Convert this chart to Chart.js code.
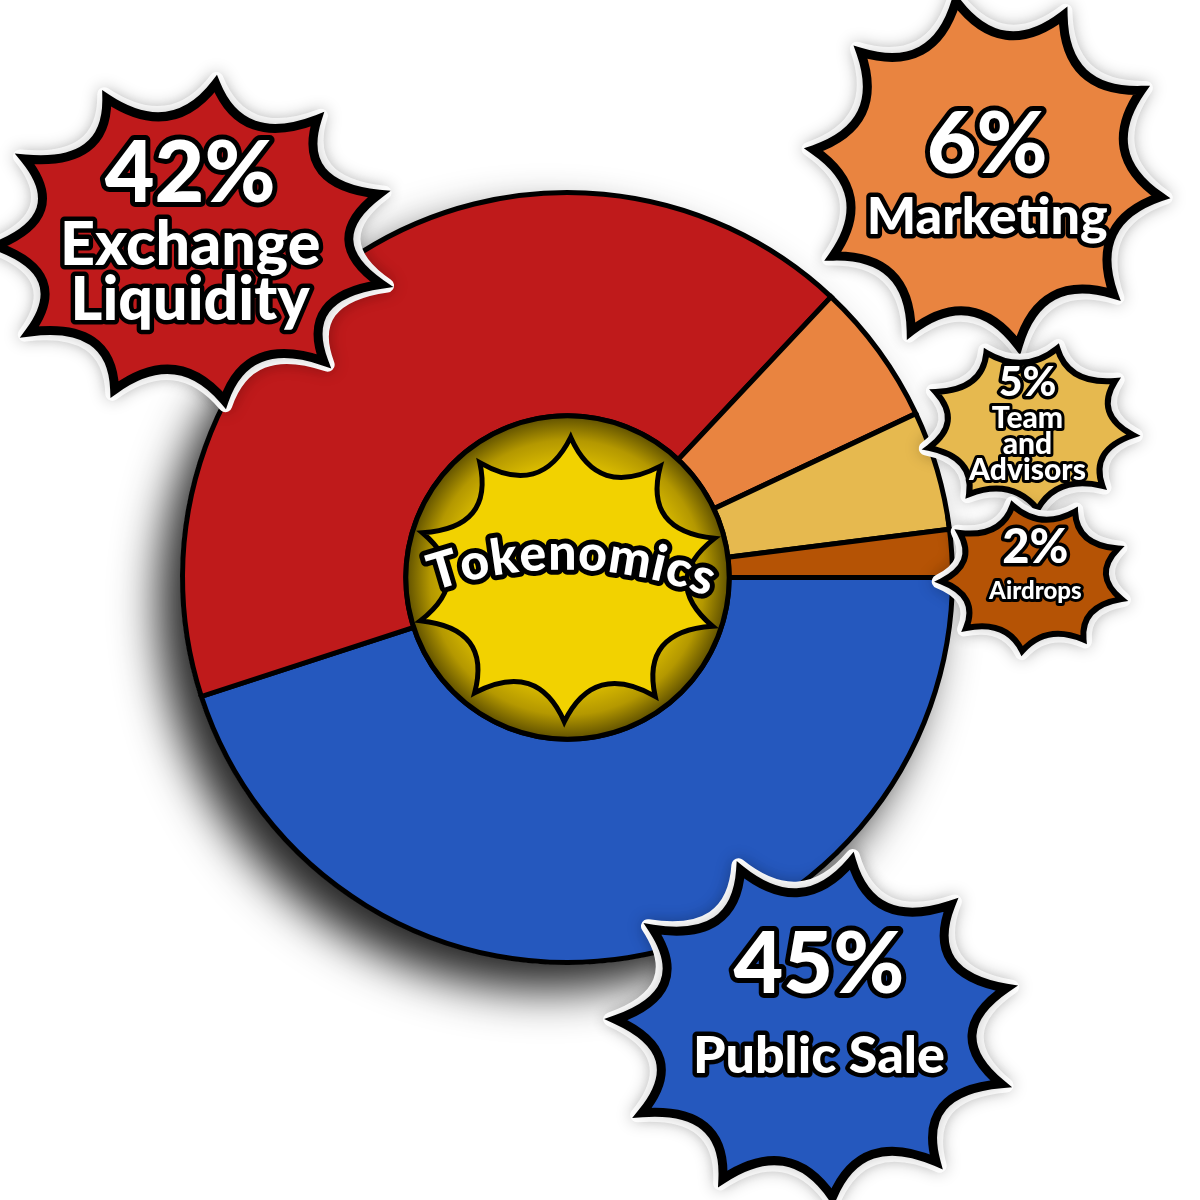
<!DOCTYPE html>
<html>
<head>
<meta charset="utf-8">
<script src="https://cdn.jsdelivr.net/npm/chart.js@4.4.1/dist/chart.umd.min.js"></script>
<style>
  html, body { margin: 0; padding: 0; background: #ffffff; }
  #wrap { width: 1200px; height: 1200px; }
</style>
</head>
<body>
<div id="wrap"><canvas id="c" width="1200" height="1200"></canvas></div>
<script>
// ---- data ----
const categories = ['Public Sale', 'Exchange Liquidity', 'Marketing', 'Team and Advisors', 'Airdrops'];
const values = [45, 42, 6, 5, 2];
const labelLines = [['Public Sale'], ['Exchange', 'Liquidity'], ['Marketing'], ['Team', 'and', 'Advisors'], ['Airdrops']];
const colors = ['#2558BE', '#BF1A1B', '#E98440', '#E6B94F', '#B55305'];
const centerTitle = 'Tokenomics';

// ---- badge styling (decoration placement, relative to the doughnut) ----
const FONT = '"Lato", "DejaVu Sans", sans-serif';
const badgeStyle = [
  { idx: 1, dx: -0.975, dy: -0.87, rx: 196, ry: 160, n: 11, rot: -1.45, pctSize: 86, lineSize: 61, pctOff: -68, lineOffs: [3, 58], tx: -2, sw: 9 },
  { idx: 2, dx: 1.09, dy: -1.05, rx: 175, ry: 175, n: 10, rot: -1.75, pctSize: 86, lineSize: 52, pctOff: -28, lineOffs: [44], tx: 0, sw: 9 },
  { idx: 3, dx: 1.20, dy: -0.39, rx: 104, ry: 82, n: 9, rot: -1.30, pctSize: 41, lineSize: 30, pctOff: -45, lineOffs: [-9, 17, 43], tx: -2, sw: 6 },
  { idx: 4, dx: 1.21, dy: 0.0, rx: 92, ry: 74, n: 9, rot: -1.10, pctSize: 47, lineSize: 24, pctOff: -30, lineOffs: [14], tx: 2, sw: 6 },
  { idx: 0, dx: 0.64, dy: 1.17, rx: 198, ry: 170, n: 11, rot: -1.95, pctSize: 86, lineSize: 52, pctOff: -63, lineOffs: [28], tx: 5, sw: 9 }
];
const badgeFirst = [badgeStyle[4], badgeStyle[0], badgeStyle[1], badgeStyle[2], badgeStyle[3]];

function starPath(ctx, cx, cy, rx, ry, n, rot, inner) {
  ctx.beginPath();
  for (let i = 0; i <= n; i++) {
    const a = rot + i * 2 * Math.PI / n;
    const px = cx + rx * Math.cos(a), py = cy + ry * Math.sin(a);
    if (i === 0) { ctx.moveTo(px, py); continue; }
    const am = a - Math.PI / n;
    const qx = cx + rx * inner * Math.cos(am), qy = cy + ry * inner * Math.sin(am);
    ctx.quadraticCurveTo(qx, qy, px, py);
  }
  ctx.closePath();
}

function outlinedText(ctx, txt, x, y, size, sw) {
  ctx.font = '900 ' + size + 'px ' + FONT;
  ctx.textAlign = 'center';
  ctx.textBaseline = 'middle';
  ctx.lineJoin = 'round';
  ctx.lineWidth = sw;
  ctx.strokeStyle = '#000';
  ctx.strokeText(txt, x, y);
  ctx.fillStyle = '#fff';
  ctx.fillText(txt, x, y);
}

const decorPlugin = {
  id: 'decor',
  beforeDatasetsDraw(chart) {
    const arc = chart.getDatasetMeta(0).data[0];
    if (!arc) return;
    const ctx = chart.ctx;
    ctx.save();
    ctx.beginPath();
    ctx.arc(arc.x, arc.y, arc.outerRadius + 2, 0, Math.PI * 2);
    ctx.shadowColor = 'rgba(0,0,0,0.85)';
    ctx.shadowBlur = 45;
    ctx.shadowOffsetX = -22;
    ctx.shadowOffsetY = 26;
    ctx.fillStyle = '#fff';
    ctx.fill();
    ctx.restore();
  },
  afterDatasetsDraw(chart) {
    const arc = chart.getDatasetMeta(0).data[0];
    if (!arc) return;
    const ctx = chart.ctx;
    const cx = arc.x, cy = arc.y, r = arc.innerRadius;
    ctx.save();
    const g = ctx.createRadialGradient(cx, cy, 0, cx, cy, r);
    g.addColorStop(0, '#F2D200');
    g.addColorStop(0.62, '#EBCB00');
    g.addColorStop(0.85, '#B49800');
    g.addColorStop(1, '#5E4F00');
    ctx.beginPath();
    ctx.arc(cx, cy, r, 0, Math.PI * 2);
    ctx.fillStyle = g;
    ctx.fill();
    ctx.lineWidth = 5;
    ctx.strokeStyle = '#000';
    ctx.stroke();
    starPath(ctx, cx, cy + 2, r * 0.95, r * 0.88, 10, -1.55, 0.6);
    ctx.fillStyle = '#F2D200';
    ctx.fill();
    ctx.lineWidth = 5;
    ctx.lineJoin = 'miter';
    ctx.stroke();
    const R = 420;
    const acx = cx - 4, acy = cy - 24 + R;
    ctx.font = '900 50px ' + FONT;
    ctx.textAlign = 'center';
    ctx.textBaseline = 'middle';
    ctx.lineJoin = 'round';
    const chars = centerTitle.split('');
    const widths = chars.map(ch => ctx.measureText(ch).width + 2);
    const total = widths.reduce((a, b) => a + b, 0);
    const tilt = 0.02;
    for (const pass of ['stroke', 'fill']) {
      let acc = 0;
      for (let i = 0; i < chars.length; i++) {
        const ang = tilt + (acc + widths[i] / 2 - total / 2) / R;
        acc += widths[i];
        const x = acx + R * Math.sin(ang), y = acy - R * Math.cos(ang);
        ctx.save();
        ctx.translate(x, y);
        ctx.rotate(ang);
        if (pass === 'stroke') {
          ctx.lineWidth = 10; ctx.strokeStyle = '#000'; ctx.strokeText(chars[i], 0, 0);
        } else {
          ctx.fillStyle = '#fff'; ctx.fillText(chars[i], 0, 0);
        }
        ctx.restore();
      }
    }
    ctx.restore();
  },
  afterDraw(chart) {
    const arc = chart.getDatasetMeta(0).data[0];
    if (!arc) return;
    const ctx = chart.ctx;
    const R0 = arc.outerRadius;
    const total = values.reduce((a, b) => a + b, 0);
    for (const b of badgeFirst) {
      const bx = arc.x + b.dx * R0, by = arc.y + b.dy * R0;
      ctx.save();
      starPath(ctx, bx, by, b.rx * 1.03, b.ry * 1.03, b.n, b.rot, 0.64);
      ctx.shadowColor = 'rgba(0,0,0,0.22)';
      ctx.shadowBlur = 16;
      ctx.fillStyle = '#fff';
      ctx.lineJoin = 'round';
      ctx.lineWidth = 14;
      ctx.strokeStyle = '#fff';
      ctx.stroke();
      ctx.fill();
      ctx.restore();
      ctx.save();
      starPath(ctx, bx, by, b.rx, b.ry, b.n, b.rot, 0.64);
      ctx.fillStyle = colors[b.idx];
      ctx.fill();
      ctx.lineJoin = 'miter';
      ctx.lineWidth = b.sw;
      ctx.strokeStyle = '#000';
      ctx.stroke();
      const pct = Math.round(values[b.idx] / total * 100) + '%';
      outlinedText(ctx, pct, bx + b.tx, by + b.pctOff, b.pctSize, b.pctSize > 60 ? 10 : 7);
      labelLines[b.idx].forEach((ln, k) => {
        outlinedText(ctx, ln, bx + b.tx, by + b.lineOffs[k], b.lineSize, b.lineSize > 40 ? 9 : 6);
      });
      ctx.restore();
    }
  }
};

new Chart(document.getElementById('c'), {
  type: 'doughnut',
  data: {
    labels: categories,
    datasets: [{
      data: values,
      backgroundColor: colors,
      borderColor: '#000',
      borderWidth: 5,
      borderJoinStyle: 'miter',
      hoverOffset: 0
    }]
  },
  options: {
    responsive: false,
    animation: false,
    rotation: 90,
    cutout: '42%',
    layout: { padding: { left: 180, right: 245, top: 190, bottom: 235 } },
    plugins: { legend: { display: false }, tooltip: { enabled: false } },
    events: []
  },
  plugins: [decorPlugin]
});
</script>
</body>
</html>
